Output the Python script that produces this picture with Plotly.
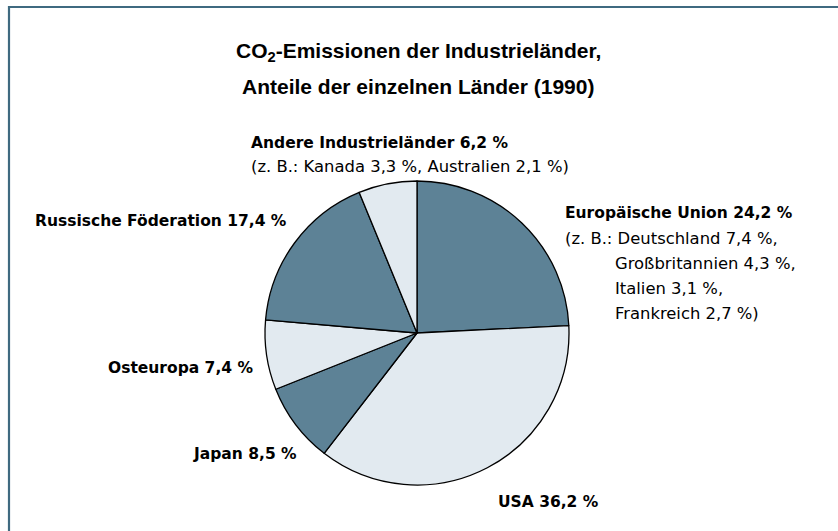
import plotly.graph_objects as go

W, H = 838, 531

# ---- data ----
categories = ["Europäische Union", "USA", "Japan", "Osteuropa",
              "Russische Föderation", "Andere Industrieländer"]
shares = [24.2, 36.2, 8.5, 7.4, 17.4, 6.2]
eu_countries = ["Deutschland", "Großbritannien", "Italien", "Frankreich"]
eu_shares = [7.4, 4.3, 3.1, 2.7]
other_countries = ["Kanada", "Australien"]
other_shares = [3.3, 2.1]
title_lines = ["CO<sub>2</sub>-Emissionen der Industrieländer,",
               "Anteile der einzelnen Länder (1990)"]

# ---- styling ----
DARK = "#5d8296"
LIGHT = "#e2eaf0"
BORDER = "#3f6a80"
TITLE_FONT = "Liberation Sans, Arial, sans-serif"
LABEL_FONT = "DejaVu Sans, Verdana, sans-serif"
slice_colors = [DARK, LIGHT, DARK, LIGHT, DARK, LIGHT]

def fmt(v):
    return f"{v:.1f}".replace(".", ",") + " %"

def px(x):
    return x / W

def py(y):
    return 1 - y / H

cx, cy, r = 417, 333, 152

fig = go.Figure(go.Pie(
    labels=categories,
    values=shares,
    sort=False,
    direction="clockwise",
    rotation=0,
    marker=dict(colors=slice_colors, line=dict(color="black", width=1.3)),
    textinfo="none",
    hoverinfo="label+percent",
    domain=dict(x=[px(cx - r), px(cx + r)], y=[py(cy + r), py(cy - r)]),
    showlegend=False,
))

annotations = []

def add(text, x, y, size=15, anchor="left", family=LABEL_FONT):
    annotations.append(dict(
        text=text, x=px(x), y=py(y), xref="paper", yref="paper",
        xanchor=anchor, yanchor="middle", showarrow=False,
        font=dict(family=family, size=size, color="black"),
    ))

# title
add(f"<b>{title_lines[0]}</b>", 418, 52, size=21, anchor="center", family=TITLE_FONT)
add(f"<b>{title_lines[1]}</b>", 418, 87, size=21, anchor="center", family=TITLE_FONT)

LS = 15.5   # bold label size
RS = 16.4   # regular detail size
# label positions (pixels, left edge / vertical middle)
label_pos = {
    "Europäische Union": (563, 213),
    "USA": (496, 502),
    "Japan": (191, 454),
    "Osteuropa": (106, 368),
    "Russische Föderation": (33, 221),
    "Andere Industrieländer": (249, 143),
}
for cat, val in zip(categories, shares):
    x, y = label_pos[cat]
    add(f"<b>{cat} {fmt(val)}</b>", x, y, size=LS)

# details for Andere Industrieländer
add("(z. B.: " + ", ".join(f"{c} {fmt(v)}" for c, v in zip(other_countries, other_shares)) + ")",
    249, 167, size=RS)

# details for EU
eu_lines = [f"{c} {fmt(v)}" for c, v in zip(eu_countries, eu_shares)]
add("(z. B.: " + eu_lines[0] + ",", 563, 238, size=RS)
for i, line in enumerate(eu_lines[1:], start=1):
    suffix = ")" if i == len(eu_lines) - 1 else ","
    add(line + suffix, 613, 238 + 25 * i, size=RS)

fig.update_layout(
    width=W, height=H,
    margin=dict(l=0, r=0, t=0, b=0),
    paper_bgcolor="white",
    plot_bgcolor="white",
    annotations=annotations,
    shapes=[dict(type="rect", xref="paper", yref="paper",
                 x0=px(9), x1=1.05, y0=-0.05, y1=py(7),
                 line=dict(color=BORDER, width=2.2), fillcolor="rgba(0,0,0,0)")],
)

fig.write_html("out.html",
               config={"displayModeBar": False},
               post_script="document.body.style.margin='0';document.body.style.overflow='hidden';")
